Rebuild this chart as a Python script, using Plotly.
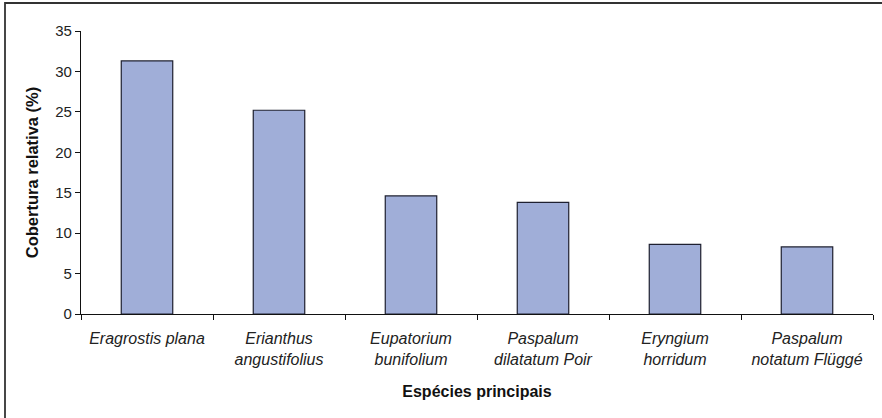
import plotly.graph_objects as go

categories = [
    "Eragrostis plana",
    "Erianthus<br>angustifolius",
    "Eupatorium<br>bunifolium",
    "Paspalum<br>dilatatum Poir",
    "Eryngium<br>horridum",
    "Paspalum<br>notatum Flüggé",
]
values = [31.3, 25.2, 14.6, 13.8, 8.6, 8.3]
y_ticks = [0, 5, 10, 15, 20, 25, 30, 35]

FONT = "Liberation Sans, Arial, sans-serif"

fig = go.Figure(
    go.Bar(
        x=categories,
        y=values,
        marker=dict(color="#A0AED8", line=dict(color="#1E2030", width=1.2)),
        width=0.39,
    )
)

W, H = 882, 418
ml, mr, mt, mb = 81, 9, 31, 104
pw, ph = W - ml - mr, H - mt - mb

fig.update_layout(
    width=W,
    height=H,
    margin=dict(l=ml, r=mr, t=mt, b=mb, pad=0),
    paper_bgcolor="white",
    plot_bgcolor="white",
    showlegend=False,
    font=dict(family=FONT, color="#222222", size=12),
)

fig.update_xaxes(
    type="category",
    automargin=False,
    showline=True,
    linecolor="#111111",
    linewidth=1.2,
    ticks="outside",
    tickson="boundaries",
    ticklen=5,
    tickcolor="#111111",
    showgrid=False,
    tickfont=dict(family=FONT, size=16, color="#222222", style="italic"),
    ticklabelstandoff=10,
    title=dict(
        text="<b>Espécies principais</b>",
        font=dict(family=FONT, size=16, color="#111111"),
        standoff=18,
    ),
)

fig.update_yaxes(
    range=[0, 35],
    automargin=False,
    tickvals=y_ticks,
    showline=True,
    linecolor="#111111",
    linewidth=1.2,
    ticks="outside",
    ticklen=5,
    tickcolor="#111111",
    showgrid=False,
    zeroline=False,
    tickfont=dict(family=FONT, size=15, color="#222222"),
    title=dict(
        text="<b>Cobertura relativa (%)</b>",
        font=dict(family=FONT, size=16.5, color="#111111"),
        standoff=12,
    ),
)

# Outer frame (left and top edges visible in the reference, others cropped)
x_left = (5 - ml) / pw
y_top = 1 + (mt - 3) / ph
fig.add_shape(
    type="rect",
    xref="paper",
    yref="paper",
    x0=x_left,
    x1=1.2,
    y0=-0.6,
    y1=y_top,
    line=dict(color="#333333", width=1.8),
    fillcolor="rgba(0,0,0,0)",
    layer="below",
)

fig.write_html(
    "out.html",
    config={"displayModeBar": False},
    post_script="document.body.style.margin='0px';document.body.style.overflow='hidden';",
)
